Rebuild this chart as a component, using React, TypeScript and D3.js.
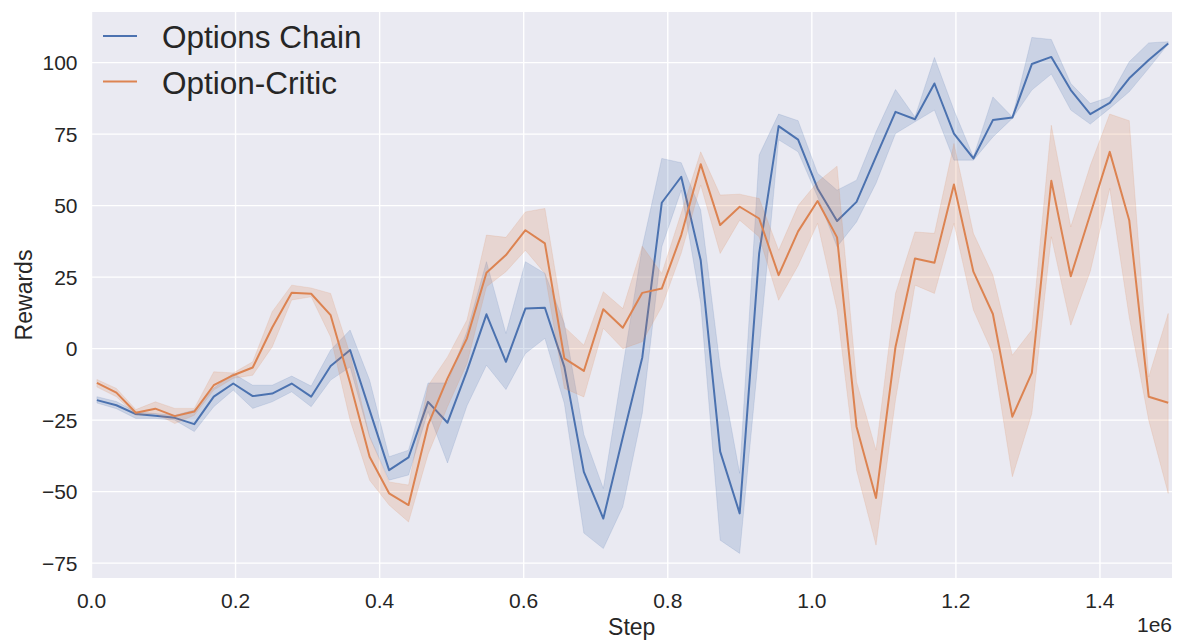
import React, { useEffect, useRef } from "react";
import * as d3 from "d3";

// training steps (x)
const steps = [
  7500, 34540, 61580, 88620, 115660, 142700, 169740, 196780, 223820, 250860,
  277900, 304940, 331980, 359020, 386060, 413100, 440140, 467180, 494220, 521260,
  548300, 575340, 602380, 629420, 656460, 683500, 710540, 737580, 764620, 791660,
  818700, 845740, 872780, 899820, 926860, 953900, 980940, 1007980, 1035020, 1062060,
  1089100, 1116140, 1143180, 1170220, 1197260, 1224300, 1251340, 1278380, 1305420, 1332460,
  1359500, 1386540, 1413580, 1440620, 1467660, 1494700,
];

const chainMean = [
  -18.0, -19.8, -22.9, -23.5, -24.2, -26.4, -16.8, -12.2, -16.6, -15.7,
  -12.2, -16.8, -6.1, -0.5, -21.5, -42.5, -38.0, -18.6, -25.9, -7.8,
  12.0, -4.6, 14.0, 14.3, -6.4, -43.1, -59.4, -31.0, -3.1, 51.0,
  60.1, 30.9, -36.0, -57.6, 33.3, 77.8, 73.1, 56.0, 44.6, 51.3,
  67.1, 82.8, 80.2, 92.7, 75.2, 66.5, 79.9, 80.8, 99.5, 102.0,
  90.4, 82.0, 85.9, 94.5, 100.9, 106.7,
];
const chainLow = [
  -19.0, -21.0, -24.4, -24.4, -25.0, -29.0, -20.3, -14.5, -20.9, -18.6,
  -15.1, -20.3, -11.0, -6.4, -30.8, -46.0, -44.2, -22.0, -40.0, -20.0,
  -5.8, -14.3, -1.7, 3.6, -19.2, -64.5, -69.9, -55.3, -22.6, 35.6,
  55.4, 15.8, -67.0, -71.6, -0.5, 73.0, 68.8, 53.1, 35.6, 44.3,
  57.8, 75.2, 79.3, 83.4, 65.9, 65.9, 74.0, 80.5, 90.4, 96.0,
  83.4, 78.5, 84.0, 89.8, 98.0, 106.5,
];
const chainHigh = [
  -16.8, -18.5, -22.1, -22.7, -23.3, -21.5, -13.8, -8.7, -12.8, -12.8,
  -9.6, -13.1, -0.5, 6.5, -11.0, -37.8, -35.5, -12.0, -12.0, 6.0,
  30.4, 5.3, 30.4, 26.3, 8.8, -30.0, -48.9, -6.4, 35.6, 66.5,
  65.0, 48.4, -6.4, -43.6, 67.7, 82.0, 79.7, 61.3, 55.4, 58.9,
  75.8, 90.6, 81.0, 101.8, 83.4, 67.0, 88.0, 81.0, 108.8, 108.1,
  92.7, 85.7, 88.0, 100.3, 106.9, 107.3,
];

const criticMean = [
  -12.0, -15.4, -22.4, -21.0, -23.6, -22.0, -12.8, -9.3, -6.6, 7.4,
  19.5, 19.2, 11.7, -12.0, -37.8, -50.6, -54.7, -26.7, -10.4, 3.6,
  26.5, 32.7, 41.4, 36.8, -3.4, -7.8, 13.8, 7.3, 19.5, 21.0,
  39.7, 64.5, 43.2, 49.6, 45.5, 25.7, 41.0, 51.6, 38.9, -27.3,
  -52.2, 0.6, 31.5, 30.0, 57.4, 26.9, 12.1, -23.8, -8.5, 58.7,
  25.3, 47.0, 68.8, 44.9, -16.8, -18.9,
];
const criticLow = [
  -13.4, -16.8, -23.3, -22.7, -26.2, -23.3, -14.5, -10.4, -9.3, 0.6,
  17.0, 18.1, 4.1, -25.0, -46.0, -54.7, -60.6, -37.0, -20.3, -5.2,
  21.6, 26.9, 34.4, 26.3, -13.9, -16.9, 7.1, 0.0, 2.4, 14.6,
  33.4, 57.2, 33.3, 44.9, 39.1, 16.9, 29.0, 43.8, 13.5, -42.5,
  -68.7, -18.0, 22.2, 19.3, 43.8, 13.5, -1.7, -44.8, -22.7, 39.1,
  8.2, 27.0, 56.0, 11.0, -25.0, -50.6,
];
const criticHigh = [
  -10.8, -13.9, -21.3, -18.6, -20.9, -20.9, -8.1, -8.5, -4.6, 12.9,
  22.2, 21.2, 19.3, -2.0, -30.8, -46.6, -47.7, -13.0, -2.9, 10.0,
  39.7, 38.9, 47.8, 49.0, 7.6, 1.2, 19.9, 14.0, 35.8, 26.3,
  47.4, 68.8, 53.7, 54.0, 52.5, 34.4, 50.0, 58.3, 63.8, -11.6,
  -35.5, 19.3, 40.8, 40.3, 71.7, 40.3, 25.7, -2.3, 6.5, 78.1,
  42.6, 64.0, 82.0, 79.7, -9.9, 12.3,
];

const xTicks = [0, 200000, 400000, 600000, 800000, 1000000, 1200000, 1400000];
const yTicks = [-75, -50, -25, 0, 25, 50, 75, 100];

const seriesNames = ["Options Chain", "Option-Critic"];
const colors = ["#4C72B0", "#DD8452"];

const width = 1180;
const height = 643;
const font = "'Liberation Sans', Arial, sans-serif";
const textColor = "#262626";

const App: React.FC = () => {
  const ref = useRef<SVGSVGElement | null>(null);

  useEffect(() => {
    if (!ref.current) return;
    const svg = d3.select(ref.current);
    svg.selectAll("*").remove();

    const left = 91.5, right = 1172, top = 12, bottom = 578;

    const x = d3.scaleLinear().domain([0, 1500000]).range([left, right]);
    const y = d3.scaleLinear().domain([-80.2, 117.7]).range([bottom, top]);

    svg.append("rect")
      .attr("x", left).attr("y", top)
      .attr("width", right - left).attr("height", bottom - top)
      .attr("fill", "#EAEAF2");

    // grid
    svg.append("g").selectAll("line").data(xTicks).join("line")
      .attr("x1", (d) => x(d)).attr("x2", (d) => x(d))
      .attr("y1", top).attr("y2", bottom)
      .attr("stroke", "#fff").attr("stroke-width", 1.4);
    svg.append("g").selectAll("line").data(yTicks).join("line")
      .attr("x1", left).attr("x2", right)
      .attr("y1", (d) => y(d)).attr("y2", (d) => y(d))
      .attr("stroke", "#fff").attr("stroke-width", 1.4);

    const clip = svg.append("clipPath").attr("id", "plot-clip");
    clip.append("rect").attr("x", left).attr("y", top)
      .attr("width", right - left).attr("height", bottom - top);

    const plot = svg.append("g").attr("clip-path", "url(#plot-clip)");

    const series = [
      { mean: chainMean, lo: chainLow, hi: chainHigh },
      { mean: criticMean, lo: criticLow, hi: criticHigh },
    ];

    series.forEach((s, k) => {
      const line = d3.line<number>()
        .x((_, i) => x(steps[i]))
        .y((d) => y(d));
      const area = d3.area<number>()
        .x((_, i) => x(steps[i]))
        .y0((d) => y(d))
        .y1((_, i) => y(s.hi[i]));

      plot.append("path")
        .attr("d", line(s.mean) || "")
        .attr("fill", "none")
        .attr("stroke", colors[k])
        .attr("stroke-width", 2)
        .attr("stroke-linejoin", "round");

      plot.append("path")
        .attr("d", area(s.lo) || "")
        .attr("fill", colors[k])
        .attr("fill-opacity", 0.2)
        .attr("stroke", colors[k])
        .attr("stroke-opacity", 0.15)
        .attr("stroke-width", 1);
    });

    // x tick labels
    svg.append("g").selectAll("text").data(xTicks).join("text")
      .attr("x", (d) => x(d)).attr("y", 608)
      .attr("text-anchor", "middle")
      .attr("font-family", font).attr("font-size", 21)
      .attr("fill", textColor)
      .text((d) => d3.format(".1f")(d / 1e6));

    // y tick labels
    svg.append("g").selectAll("text").data(yTicks).join("text")
      .attr("x", 77.5).attr("y", (d) => y(d))
      .attr("dy", "0.36em")
      .attr("text-anchor", "end")
      .attr("font-family", font).attr("font-size", 21)
      .attr("fill", textColor)
      .text((d) => d3.format("d")(d));

    svg.append("text")
      .attr("x", 1172).attr("y", 632)
      .attr("text-anchor", "end")
      .attr("font-family", font).attr("font-size", 21)
      .attr("fill", textColor)
      .text("1e6");

    svg.append("text")
      .attr("x", (left + right) / 2).attr("y", 635)
      .attr("text-anchor", "middle")
      .attr("font-family", font).attr("font-size", 23)
      .attr("fill", textColor)
      .text("Step");

    svg.append("text")
      .attr("transform", `translate(31.5, ${(top + bottom) / 2}) rotate(-90)`)
      .attr("text-anchor", "middle")
      .attr("font-family", font).attr("font-size", 23)
      .attr("fill", textColor)
      .text("Rewards");

    // legend
    const legend = svg.append("g");
    seriesNames.forEach((name, k) => {
      const ly = 36 + k * 45.5;
      legend.append("line")
        .attr("x1", 103).attr("x2", 137)
        .attr("y1", ly).attr("y2", ly)
        .attr("stroke", colors[k]).attr("stroke-width", 2);
      legend.append("text")
        .attr("x", 162).attr("y", ly + 12)
        .attr("font-family", font).attr("font-size", 31.5)
        .attr("fill", textColor)
        .text(name);
    });
  }, []);

  return (
    <svg
      ref={ref}
      width={width}
      height={height}
      style={{ position: "absolute", left: 0, top: 0, background: "#fff" }}
    />
  );
};

export default App;
